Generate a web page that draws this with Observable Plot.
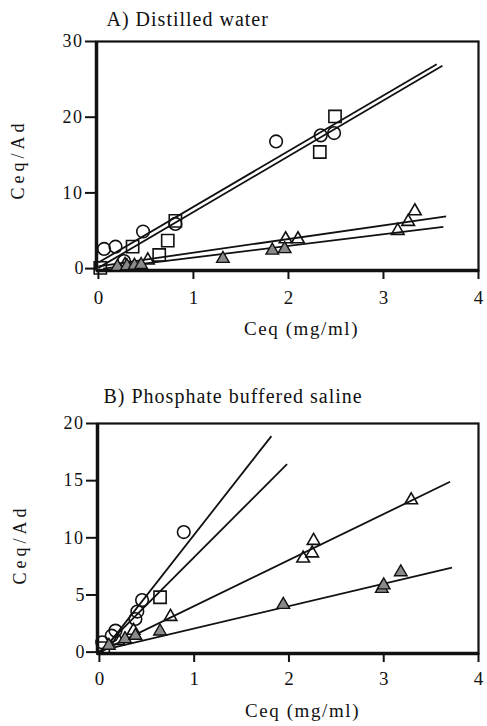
<!DOCTYPE html>
<html>
<head>
<meta charset="utf-8">
<script src="https://cdn.jsdelivr.net/npm/d3@7"></script>
<script src="https://cdn.jsdelivr.net/npm/@observablehq/plot@0.6"></script>
<style>
  body { margin: 0; background: #fff; width: 487px; height: 726px; overflow: hidden; }
  #chart { position: relative; width: 487px; height: 726px; }
  #chart svg { position: absolute; left: 0; display: block; }
  #chart svg, #chart svg text { font-family: "Liberation Serif", "Times New Roman", Times, serif !important; }
</style>
</head>
<body>
<div id="chart"></div>
<script>
// ---- Panel A: distilled water ----
const titleA = "A) Distilled water";
const aCircleX = [0.06, 0.18, 0.27, 0.47, 0.81, 1.87, 2.34, 2.48];
const aCircleY = [2.6, 2.9, 1.0, 4.9, 5.9, 16.8, 17.6, 17.9];
const aSquareX = [0.02, 0.36, 0.64, 0.73, 0.81, 2.33, 2.49];
const aSquareY = [0.1, 2.9, 1.8, 3.7, 6.3, 15.4, 20.1];
const aOpenTriX = [0.28, 0.52, 1.97, 2.10, 3.15, 3.26, 3.33];
const aOpenTriY = [0.5, 1.1, 3.9, 3.9, 5.0, 6.2, 7.6];
const aFillTriX = [0.20, 0.30, 0.38, 0.45, 1.31, 1.83, 1.96];
const aFillTriY = [0.25, 0.35, 0.4, 0.5, 1.3, 2.4, 2.6];
// fitted lines: start and end points (circle, square, open triangle, filled triangle)
const aFitX1 = [0, 0, 0, 0.05];
const aFitY1 = [0.8, 0.1, 0.3, 0];
const aFitX2 = [3.56, 3.62, 3.66, 3.63];
const aFitY2 = [27.0, 26.8, 6.9, 5.5];
const aXTicks = [0, 1, 2, 3, 4];
const aYTicks = [0, 10, 20, 30];

// ---- Panel B: phosphate buffered saline ----
const titleB = "B) Phosphate buffered saline";
const bCircleX = [0.03, 0.13, 0.17, 0.38, 0.40, 0.45, 0.89];
const bCircleY = [0.86, 1.44, 1.88, 2.9, 3.55, 4.55, 10.5];
const bSquareX = [0.04, 0.64];
const bSquareY = [0.35, 4.8];
const bOpenTriX = [0.20, 0.36, 0.75, 2.15, 2.245, 2.26, 3.29];
const bOpenTriY = [1.0, 1.88, 3.1, 8.2, 8.65, 9.75, 13.3];
const bFillTriX = [0.10, 0.27, 0.38, 0.64, 1.94, 2.98, 3.00, 3.18];
const bFillTriY = [0.57, 1.15, 1.44, 1.82, 4.15, 5.55, 5.85, 7.0];
const bFitX1 = [0.03, 0, 0, 0];
const bFitY1 = [0, 0, 0, 0.1];
const bFitX2 = [1.815, 1.98, 3.70, 3.72];
const bFitY2 = [18.9, 16.45, 14.9, 7.4];
const bXTicks = [0, 1, 2, 3, 4];
const bYTicks = [0, 5, 10, 15, 20];

const xLabel = "Ceq (mg/ml)";
const yLabel = "Ceq/Ad";

const INK = "#111";
const GREY = "#8a8a8a";
const FONT = "'Liberation Serif', 'Times New Roman', Times, serif";

const pts = (xs, ys) => xs.map((x, i) => ({x, y: ys[i]}));
const segs = (x1, y1, x2, y2) => x1.map((v, i) => ({x1: v, y1: y1[i], x2: x2[i], y2: y2[i]}));

function panel(cfg) {
  const xDom = [-0.02, 4];
  return Plot.plot({
    width: 487,
    height: cfg.height,
    marginLeft: cfg.ml,
    marginRight: 9,
    marginTop: cfg.mt,
    marginBottom: cfg.mb,
    style: {fontFamily: FONT, background: "white", color: INK, overflow: "visible"},
    x: {domain: xDom},
    y: {domain: cfg.yDom},
    marks: [
      Plot.frame({stroke: INK, strokeWidth: 2.2}),
      Plot.ruleX([xDom[0]], {stroke: INK, strokeWidth: 3.5}),
      Plot.ruleY([cfg.yDom[0]], {stroke: INK, strokeWidth: 3.5}),
      Plot.axisY(cfg.yTicks, {tickSize: 11, tickPadding: 2, fontSize: 18, strokeWidth: 2, stroke: INK, fill: INK, tickFormat: d => String(d), label: null}),
      Plot.axisX(cfg.xTicks, {tickSize: 9, tickPadding: cfg.xPad, fontSize: 19, strokeWidth: 2, stroke: INK, fill: INK, tickFormat: d => String(d), label: null}),
      Plot.link(cfg.fits, {x1: "x1", y1: "y1", x2: "x2", y2: "y2", stroke: INK, strokeWidth: 1.8}),
      Plot.dot(cfg.circles, {x: "x", y: "y", symbol: "circle", r: 6.3, stroke: INK, strokeWidth: 1.6, fill: "none"}),
      Plot.dot(cfg.squares, {x: "x", y: "y", symbol: "square", r: 6.9, stroke: INK, strokeWidth: 1.6, fill: "none"}),
      Plot.dot(cfg.openTri, {x: "x", y: "y", symbol: "triangle", r: 4.7, stroke: INK, strokeWidth: 1.6, fill: "none"}),
      Plot.dot(cfg.fillTri, {x: "x", y: "y", symbol: "triangle", r: 4.7, stroke: INK, strokeWidth: 1.4, fill: GREY}),
      Plot.text([cfg.title], {frameAnchor: "top-left", textAnchor: "start", lineAnchor: "middle", dx: cfg.titleDx, dy: cfg.titleDy, fontSize: 20, fill: INK}),
      Plot.text([xLabel], {frameAnchor: "bottom", textAnchor: "middle", lineAnchor: "middle", dx: cfg.xlDx, dy: cfg.xlDy, fontSize: 19, fill: INK}),
      Plot.text([yLabel], {frameAnchor: "left", textAnchor: "middle", lineAnchor: "middle", rotate: -90, dx: cfg.ylDx, dy: cfg.ylDy, fontSize: 18, fill: INK})
    ]
  });
}

const chartA = panel({
  height: 350, ml: 96, mt: 41, mb: 80, yDom: [-0.25, 30],
  xTicks: aXTicks, yTicks: aYTicks, xPad: 11,
  fits: segs(aFitX1, aFitY1, aFitX2, aFitY2),
  circles: pts(aCircleX, aCircleY), squares: pts(aSquareX, aSquareY),
  openTri: pts(aOpenTriX, aOpenTriY), fillTri: pts(aFillTriX, aFillTriY),
  title: titleA, titleDx: 10, titleDy: -22,
  xlDx: 14, xlDy: 58, ylDx: -78, ylDy: 3.5
});
chartA.style.top = "0px";

const chartB = panel({
  height: 376, ml: 97, mt: 73, mb: 73, yDom: [-0.12, 20],
  xTicks: bXTicks, yTicks: bYTicks, xPad: 9,
  fits: segs(bFitX1, bFitY1, bFitX2, bFitY2),
  circles: pts(bCircleX, bCircleY), squares: pts(bSquareX, bSquareY),
  openTri: pts(bOpenTriX, bOpenTriY), fillTri: pts(bFillTriX, bFillTriY),
  title: titleB, titleDx: 6, titleDy: -26.5,
  xlDx: 14.5, xlDy: 57, ylDx: -77, ylDy: 6
});
chartB.style.top = "350px";

const root = document.getElementById("chart");
root.append(chartA, chartB);

// widen the typewriter-like spacing of the printed lettering
for (const svg of [chartA, chartB]) {
  svg.querySelectorAll("text").forEach(t => {
    t.setAttribute("font-family", FONT);
    const s = t.textContent;
    if (s === yLabel) t.setAttribute("letter-spacing", "4");
    else if (s === xLabel) t.setAttribute("letter-spacing", "1.6");
    else if (s === titleA || s === titleB) t.setAttribute("letter-spacing", "1");
    else if (s.length === 2) t.setAttribute("letter-spacing", "1.5");
  });
}
</script>
</body>
</html>
